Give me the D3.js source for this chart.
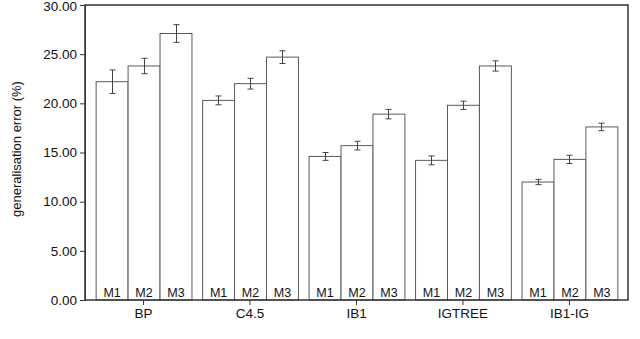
<!DOCTYPE html>
<html>
<head>
<meta charset="utf-8">
<script src="https://cdn.jsdelivr.net/npm/d3@7"></script>
<style>
  body { margin: 0; background: #fff; }
  text { font-family: "Liberation Sans", Arial, Helvetica, sans-serif; fill: #111; }
</style>
</head>
<body>
<svg class="canvas"></svg>
<script>
const width = 640;
const height = 339;

// data
const learners = ["BP", "C4.5", "IB1", "IGTREE", "IB1-IG"];
const methods = ["M1", "M2", "M3"];
const errM1 = [22.2, 20.3, 14.6, 14.2, 12.0];
const errM2 = [23.8, 22.0, 15.7, 19.8, 14.3];
const errM3 = [27.1, 24.7, 18.9, 23.8, 17.6];
const ciM1 = [1.2, 0.45, 0.4, 0.45, 0.27];
const ciM2 = [0.78, 0.55, 0.44, 0.42, 0.42];
const ciM3 = [0.9, 0.65, 0.48, 0.52, 0.38];
const yTicks = [0, 5, 10, 15, 20, 25, 30];

const margin = {top: 5, right: 12, bottom: 39, left: 85};

const svg = d3.select(".canvas")
	.attr("width", width)
	.attr("height", height);

const rows = [];
learners.forEach((l, i) => {
	rows.push({learner: l, method: "M1", value: errM1[i], ci: ciM1[i]});
	rows.push({learner: l, method: "M2", value: errM2[i], ci: ciM2[i]});
	rows.push({learner: l, method: "M3", value: errM3[i], ci: ciM3[i]});
});

const x0 = d3.scaleBand()
	.domain(learners)
	.range([margin.left, width - margin.right])
	.paddingInner(0.1)
	.paddingOuter(0.1);

const x1 = d3.scaleBand()
	.domain(methods)
	.range([0, x0.bandwidth()]);

const y = d3.scaleLinear()
	.domain([0, 30])
	.range([height - margin.bottom, margin.top]);

// bars
const bars = svg.append("g");
bars.selectAll("rect")
	.data(rows)
	.join("rect")
	.attr("x", d => x0(d.learner) + x1(d.method) + 0.5)
	.attr("y", d => y(d.value))
	.attr("width", x1.bandwidth())
	.attr("height", d => y(0) - y(d.value))
	.attr("fill", "#fff")
	.attr("stroke", "#5a5a5a")
	.attr("stroke-width", 1);

// method labels inside bars
bars.selectAll("text")
	.data(rows)
	.join("text")
	.attr("x", d => x0(d.learner) + x1(d.method) + x1.bandwidth() / 2 + 0.5)
	.attr("y", y(0) - 3)
	.attr("text-anchor", "middle")
	.attr("font-size", 12.5)
	.text(d => d.method);

// error bars
const err = svg.append("g")
	.attr("stroke", "#444")
	.attr("stroke-width", 1);

rows.forEach(d => {
	const cx = Math.round(x0(d.learner) + x1(d.method) + x1.bandwidth() / 2) + 0.5;
	err.append("line")
		.attr("x1", cx).attr("x2", cx)
		.attr("y1", y(d.value + d.ci)).attr("y2", y(d.value - d.ci));
	err.append("line")
		.attr("x1", cx - 3).attr("x2", cx + 3)
		.attr("y1", y(d.value + d.ci)).attr("y2", y(d.value + d.ci));
	err.append("line")
		.attr("x1", cx - 3).attr("x2", cx + 3)
		.attr("y1", y(d.value - d.ci)).attr("y2", y(d.value - d.ci));
});

// frame
svg.append("rect")
	.attr("x", margin.left)
	.attr("y", margin.top)
	.attr("width", width - margin.right - margin.left)
	.attr("height", y(0) - margin.top)
	.attr("fill", "none")
	.attr("stroke", "#333")
	.attr("stroke-width", 1.5);

// y axis
const yAxis = svg.append("g")
	.attr("transform", `translate(${margin.left},0)`)
	.call(d3.axisLeft(y).tickValues(yTicks).tickFormat(d3.format(".2f")).tickSizeOuter(0).tickSize(5).tickPadding(3));
yAxis.select(".domain").attr("stroke", "#333");
yAxis.selectAll(".tick line").attr("stroke", "#333");
yAxis.selectAll("text")
	.attr("font-size", 13.5)
	.attr("font-family", "Liberation Sans, Arial, sans-serif")
	.attr("fill", "#111");
// keep the top label inside the picture
yAxis.selectAll(".tick text")
	.filter(d => d === 30)
	.attr("y", 1.5);

// x axis (group labels)
const xAxis = svg.append("g")
	.attr("transform", `translate(0,${y(0)})`)
	.call(d3.axisBottom(x0).tickSizeOuter(0).tickSize(5).tickPadding(3));
xAxis.select(".domain").remove();
xAxis.selectAll(".tick line").attr("stroke", "#333");
xAxis.selectAll("text")
	.attr("font-size", 13.5)
	.attr("font-family", "Liberation Sans, Arial, sans-serif")
	.attr("fill", "#111");

// y axis title
svg.append("text")
	.attr("transform", `translate(21,149) rotate(-90)`)
	.attr("text-anchor", "middle")
	.attr("font-size", 13)
	.text("generalisation error (%)");
</script>
</body>
</html>
